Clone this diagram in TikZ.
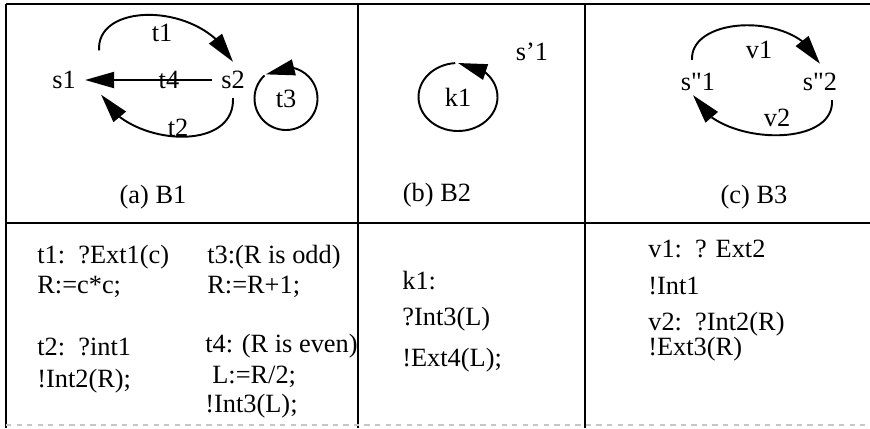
\documentclass[tikz,border=0pt]{standalone}
\usepackage{fontspec}
\newfontfamily\tmsfont{Liberation Serif}
\usepackage{tikz}
\usetikzlibrary{arrows.meta,bending}

\begin{document}
\begin{tikzpicture}[x=1cm,y=1cm,
  font=\tmsfont\fontsize{15}{18}\selectfont,
  frame/.style={line width=1pt},
  state/.style={inner sep=0.18cm},
  lbl/.style={inner sep=1pt},
  code/.style={anchor=base west, inner sep=0pt},
  arr/.style={-{Triangle[length=5.8mm,width=3.2mm,flex]}, line width=1.1pt}]
\useasboundingbox (0,0) rectangle (17.4,-8.56);
% ----- table
\draw[frame] (0.12,-0.08) -- (17.4,-0.08);
\draw[frame] (0.12,-0.08) -- (0.12,-8.56);
\draw[frame] (7.16,-0.08) -- (7.16,-8.56);
\draw[frame] (11.7,-0.08) -- (11.7,-8.56);
\draw[frame] (0.12,-4.46) -- (17.4,-4.46);
\draw[gray!45, dashed, line width=0.6pt] (0.12,-8.5) -- (17.4,-8.5);
% ----- (a) B1
\node[state] (s1) at (1.28,-1.6) {s1};
\node[state] (s2) at (4.66,-1.6) {s2};
\node[lbl] (t1) at (3.24,-0.66) {t1};
\node[lbl] (t2) at (3.56,-2.56) {t2};
\node[lbl] (t4) at (3.38,-1.6) {t4};
\node[lbl] (t3) at (5.72,-1.97) {t3};
\node (capa) at (3.06,-3.94) {(a) B1};
\draw[arr] ([shift={(0.28,0.23)}]s1.north east) .. controls +(-0.06,1.0) and +(-0.56,1.19) .. (s2.north);
\draw[arr] (s2.south) .. controls +(0.04,-1.14) and +(0.45,-1.0) .. ([shift={(0.32,0.07)}]s1.south east);
\draw[arr] (s2.west) -- (s1.east);
\draw[arr] ([shift={(133:0.63)}]t3.center) arc[start angle=133, end angle=490, radius=0.63];
% ----- (b) B2
\node[lbl] (k1) at (9.16,-1.94) {k1};
\node[lbl] (sp1) at (10.64,-1.04) {s’1};
\node (capb) at (8.74,-3.9) {(b) B2};
\draw[arr] ([shift={(94:0.79 and 0.68)}]k1.center) arc[start angle=94, end angle=450, x radius=0.79, y radius=0.68];
% ----- (c) B3
\node[state] (spp1) at (13.96,-1.64) {s\textquotedbl 1};
\node[state] (spp2) at (16.4,-1.64) {s\textquotedbl 2};
\node[lbl] (v1) at (15.18,-1.0) {v1};
\node[lbl] (v2) at (15.54,-2.36) {v2};
\node (capc) at (15.08,-3.94) {(c) B3};
\draw[arr] ([shift={(-0.12,0.08)}]spp1.north) .. controls +(-0.04,0.9) and +(-0.4,1.05) .. (spp2.north);
\draw[arr] ([xshift=0.24cm]spp2.south) .. controls +(0.06,-1.0) and +(0.39,-1.0) .. ([shift={(-0.1,0.1)}]spp1.south);
% ----- transition code
\node[code] (t1a) at (0.74,-5.26) {t1:\ \ ?Ext1(c)};
\node[code] (t1b) at (0.74,-5.86) {R:=c*c;};
\node[code] (t2a) at (0.74,-7.10) {t2:\ \ ?int1};
\node[code] (t2b) at (0.74,-7.74) {!Int2(R);};
\node[code] (t3a) at (4.14,-5.26) {t3:(R is odd)};
\node[code] (t3b) at (4.14,-5.86) {R:=R+1;};
\node[code] (t4a) at (4.10,-7.04) {t4: (R is even)};
\node[code] (t4b) at (4.24,-7.66) {L:=R/2;};
\node[code] (t4c) at (4.10,-8.24) {!Int3(L);};
\node[code] (k1a) at (8.04,-5.78) {k1:};
\node[code] (k1b) at (8.04,-6.50) {?Int3(L)};
\node[code] (k1c) at (8.04,-7.32) {!Ext4(L);};
\node[code] (v1a) at (12.96,-5.14) {v1:\ \ ? Ext2};
\node[code] (v1b) at (12.96,-5.88) {!Int1};
\node[code] (v2a) at (12.96,-6.60) {v2:\ \ ?Int2(R)};
\node[code] (v2b) at (12.96,-7.10) {!Ext3(R)};
\end{tikzpicture}
\end{document}
